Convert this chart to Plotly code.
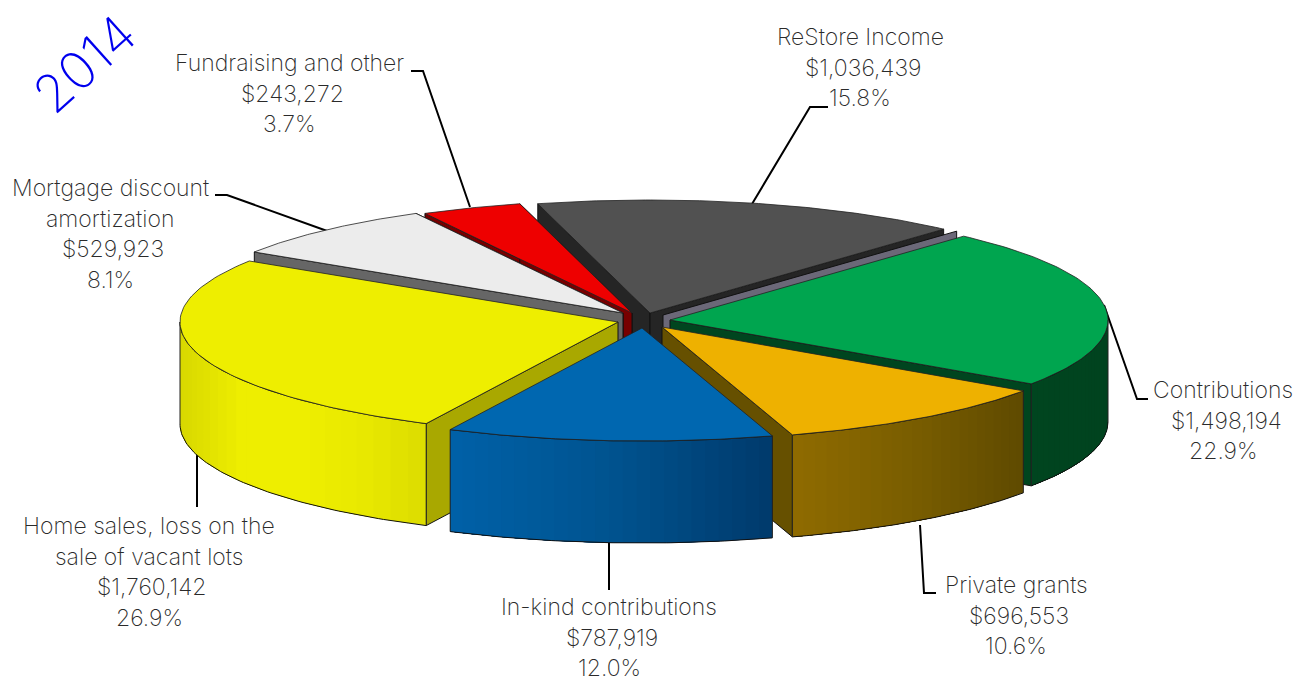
import math
import plotly.graph_objects as go

# Revenue breakdown for 2014
categories = ["Contributions", "Private grants", "In-kind contributions",
              "Home sales, loss on the sale of vacant lots",
              "Mortgage discount amortization", "Fundraising and other",
              "ReStore Income"]
amounts = [1498194, 696553, 787919, 1760142, 529923, 243272, 1036439]
amount_labels = ["$1,498,194", "$696,553", "$787,919", "$1,760,142",
                 "$529,923", "$243,272", "$1,036,439"]
percent_labels = ["22.9%", "10.6%", "12.0%", "26.9%", "8.1%", "3.7%", "15.8%"]
label_lines = [["Contributions"], ["Private grants"], ["In-kind contributions"],
               ["Home sales, loss on the", "sale of vacant lots"],
               ["Mortgage discount", "amortization"],
               ["Fundraising and other"], ["ReStore Income"]]

# Slice styling, in the same order as the categories
top_colors = ["#00a54f", "#eeb100", "#0067b0", "#eeee00", "#ececec", "#ee0000", "#515151"]
wall_colors = ["#00451f", "#665000", "#0067b0", "#a9a800", "#666666", "#770000", "#252525"]
rim_stops = [["#00451f", "#00431f"],
             ["#8f6b00", "#7a5e00", "#5f4a00"],
             ["#0061a8", "#00538f", "#003a6c"],
             ["#d8d800", "#eeee00", "#eeee00", "#e8e800", "#dcdc00"],
             ["#666666", "#666666"], ["#770000", "#770000"], ["#252525", "#252525"]]
apex_x = [670, 662, 642, 618, 623, 632, 650]
apex_y = [320, 327, 328, 322, 313, 313, 313]

# Projection of the extruded disc on the page
RX, RY, DEPTH = 438, 113, 102
START_DEG = 42.1
FONT = "Inter"
TEXT_COLOR = "#2a2a2a"
LINE_STEP = 30.7
AMOUNT_SHIFT = 3

# Label anchors (centre x, first-line y) and leader polylines
label_x = [1223, 1016, 609, 149, 110, 289, 860]
label_y = [390, 585, 607, 526, 188, 63, 37]
leader_x = [[1148, 1137, 1104], [936, 924, 920], [609, 609], [197, 197],
            [215, 227, 330], [411, 423, 470], [828, 810, 752]]
leader_y = [[399, 399, 305], [593, 593, 525], [590, 543], [507, 455],
            [195, 195, 232], [71, 71, 207], [107, 107, 204]]

total = sum(amounts)
starts, ends = [], []
angle = START_DEG
for amount in amounts:
    starts.append(angle)
    angle += amount / total * 360.0
    ends.append(angle)


def rim(i, deg, drop=0.0, cx=None, cy=None):
    a = math.radians(deg)
    x0 = apex_x[i] if cx is None else cx
    y0 = apex_y[i] if cy is None else cy
    return x0 + RX * math.sin(a), y0 - RY * math.cos(a) + drop


def arc(i, a, b, drop=0.0, n=80):
    pts = [rim(i, a + (b - a) * k / n, drop) for k in range(n + 1)]
    return [p[0] for p in pts], [p[1] for p in pts]


def mix(stops, t):
    t = max(0.0, min(1.0, t)) * (len(stops) - 1)
    k = min(int(t), len(stops) - 2)
    f = t - k
    c0 = [int(stops[k][j:j + 2], 16) for j in (1, 3, 5)]
    c1 = [int(stops[k + 1][j:j + 2], 16) for j in (1, 3, 5)]
    return "rgb(%d,%d,%d)" % tuple(round(u + (v - u) * f) for u, v in zip(c0, c1))


fig = go.Figure()


def poly(xs, ys, fill, line="#111111", width=1.0):
    fig.add_trace(go.Scatter(x=xs, y=ys, mode="lines", fill="toself", fillcolor=fill,
                             line=dict(color=line, width=width), hoverinfo="skip",
                             showlegend=False))


def wall(i, deg, fill, cx=None, cy=None):
    x0 = apex_x[i] if cx is None else cx
    y0 = apex_y[i] if cy is None else cy
    xr, yr = rim(i, deg, 0, x0, y0)
    poly([x0, xr, xr, x0, x0], [y0, yr, yr + DEPTH, y0 + DEPTH, y0], fill)


def outer_face(i, a, b):
    # Curved side: each colour band runs to the slice's end and the next band paints over it
    strips = 24
    step = (b - a) / strips
    xa = rim(i, a)[0]
    xb = rim(i, b)[0]
    for k in range(strips):
        a0 = a + step * k
        t = (0.5 * (rim(i, a0)[0] + rim(i, a0 + step)[0]) - min(xa, xb)) / abs(xb - xa)
        col = mix(rim_stops[i], t)
        xt, yt = arc(i, a0, b, 0.0, 12)
        xd, yd = arc(i, a0, b, DEPTH, 12)
        fig.add_trace(go.Scatter(x=xt + xd[::-1] + xt[:1], y=yt + yd[::-1] + yt[:1], mode="lines",
                                 fill="toself", fillcolor=col, line=dict(width=0), hoverinfo="skip",
                                 showlegend=False))
    xt, yt = arc(i, a, b)
    xd, yd = arc(i, a, b, DEPTH)
    for xs, ys in ((xt, yt), (xd, yd)):
        fig.add_trace(go.Scatter(x=xs, y=ys, mode="lines", line=dict(color="#111111", width=1),
                                 hoverinfo="skip", showlegend=False))
    for deg in (a, b):
        xe, ye = rim(i, deg)
        fig.add_trace(go.Scatter(x=[xe, xe], y=[ye, ye + DEPTH], mode="lines",
                                 line=dict(color="#222222", width=1),
                                 hoverinfo="skip", showlegend=False))


def top_face(i):
    xs, ys = arc(i, starts[i], ends[i])
    poly([apex_x[i]] + xs + [apex_x[i]], [apex_y[i]] + ys + [apex_y[i]], top_colors[i], "#222222", 0.8)


# Leader lines sit behind the disc
for xs, ys in zip(leader_x, leader_y):
    fig.add_trace(go.Scatter(x=xs, y=ys, mode="lines", line=dict(color="#000000", width=2),
                             hoverinfo="skip", showlegend=False))

# Painter's order, far slices first
CONTRIB, GRANTS, INKIND, HOMES, MORTGAGE, FUNDRAISING, RESTORE = range(7)

wall(RESTORE, starts[RESTORE], wall_colors[RESTORE])
wall(RESTORE, ends[RESTORE], wall_colors[RESTORE])
top_face(RESTORE)

wall(FUNDRAISING, starts[FUNDRAISING], wall_colors[FUNDRAISING])
wall(FUNDRAISING, ends[FUNDRAISING], wall_colors[FUNDRAISING])
top_face(FUNDRAISING)

wall(MORTGAGE, ends[MORTGAGE], wall_colors[MORTGAGE])
wall(MORTGAGE, starts[MORTGAGE], wall_colors[MORTGAGE])
top_face(MORTGAGE)

# Lighter back wall just behind the green slice
wall(CONTRIB, starts[CONTRIB], "#6b6878", cx=663, cy=315)

wall(CONTRIB, ends[CONTRIB], wall_colors[CONTRIB])
outer_face(CONTRIB, 90.0, ends[CONTRIB])
top_face(CONTRIB)

wall(HOMES, starts[HOMES], wall_colors[HOMES])
outer_face(HOMES, starts[HOMES], 270.0)
top_face(HOMES)

wall(GRANTS, ends[GRANTS], wall_colors[GRANTS])
outer_face(GRANTS, starts[GRANTS], ends[GRANTS])
top_face(GRANTS)

outer_face(INKIND, starts[INKIND], ends[INKIND])
top_face(INKIND)

# Stacked category, amount and share labels
annotations = []
for i in range(len(categories)):
    lines = label_lines[i] + [amount_labels[i], percent_labels[i]]
    for k, text in enumerate(lines):
        shift = AMOUNT_SHIFT if text == amount_labels[i] else 0
        annotations.append(dict(x=label_x[i] + shift, y=label_y[i] + k * LINE_STEP, text=text,
                                xref="x", yref="y", showarrow=False, xanchor="center", yanchor="middle",
                                font=dict(family=FONT, size=23, color=TEXT_COLOR, weight=200)))

annotations.append(dict(x=84, y=64, text="2014", xref="x", yref="y", showarrow=False, textangle=-42,
                        xanchor="center", yanchor="middle",
                        font=dict(family=FONT, size=52, color="#0000ee", weight=200)))

fig.update_layout(
    width=1309, height=681, margin=dict(l=0, r=0, t=0, b=0),
    paper_bgcolor="#ffffff", plot_bgcolor="#ffffff", showlegend=False,
    xaxis=dict(range=[0, 1309], visible=False, fixedrange=True),
    yaxis=dict(range=[681, 0], visible=False, fixedrange=True),
    annotations=annotations,
)

fig.write_html("out.html", config=dict(displayModeBar=False))
